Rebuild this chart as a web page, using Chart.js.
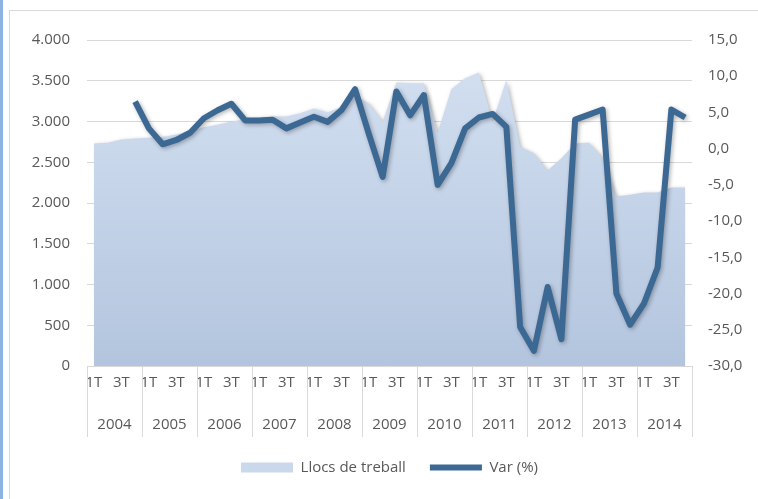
<!DOCTYPE html>
<html>
<head>
<meta charset="utf-8">
<script src="https://cdn.jsdelivr.net/npm/chart.js@4.4.1/dist/chart.umd.min.js"></script>
<style>
  html, body { margin: 0; padding: 0; background: #fff; overflow: hidden; }
  #wrap { position: relative; width: 758px; height: 499px; }
  #strip { position: absolute; left: 0; top: 0; width: 3px; height: 499px; background: #8db3e2; }
  #frame { position: absolute; left: 9px; top: 10px; width: 800px; height: 600px;
           border-top: 1px solid #d9d9d9; border-left: 1px solid #d9d9d9; }
  canvas { position: absolute; left: 0; top: 0; }
</style>
</head>
<body>
<div id="wrap">
  <div id="strip"></div>
  <div id="frame"></div>
  <canvas id="chart" width="758" height="499"></canvas>
</div>
<script>
// data
const years = ['2004', '2005', '2006', '2007', '2008', '2009', '2010', '2011', '2012', '2013', '2014'];
const quarters = ['1T', '2T', '3T', '4T'];
const shownQuarters = ['1T', '3T'];

const llocs = [
  2730, 2740, 2780, 2790,   // 2004
  2800, 2810, 2840, 2880,   // 2005
  2930, 2960, 3000, 3020,   // 2006
  3040, 3060, 3060, 3100,   // 2007
  3160, 3110, 3180, 3300,   // 2008
  3220, 3000, 3480, 3470,   // 2009
  3470, 2860, 3400, 3530,   // 2010
  3600, 3000, 3510, 2690,   // 2011
  2610, 2400, 2550, 2730,   // 2012
  2740, 2560, 2080, 2100,   // 2013
  2130, 2130, 2190, 2190    // 2014
];

const varPct = [
  null, null, null, 6.5,
  2.8, 0.6, 1.2, 2.2,
  4.2, 5.3, 6.2, 3.9,
  3.9, 4.0, 2.8, 3.6,
  4.4, 3.7, 5.3, 8.2,
  2.0, -3.9, 7.9, 4.6,
  7.4, -5.0, -2.0, 2.8,
  4.3, 4.8, 3.0, -24.6,
  -27.9, -19.1, -26.3, 4.0,
  4.7, 5.4, -20.0, -24.3,
  -21.4, -16.4, 5.4, 4.3
];

const labels = years.flatMap(y => quarters.map(q => q + ' ' + y));

const gridColor = '#d9d9d9';
const textColor = '#595959';
const areaLegendColor = '#cad8ec';

Chart.defaults.font.family = "'Open Sans', sans-serif";
Chart.defaults.font.size = 15;
Chart.defaults.color = textColor;

function fmtThousands(v) {
  const s = String(Math.round(v));
  return s.replace(/\B(?=(\d{3})+(?!\d))/g, '.');
}

// year row + separators under the quarter ticks
const yearAxis = {
  id: 'yearAxis',
  afterDraw(chart) {
    const xs = chart.scales.x;
    const ctx = chart.ctx;
    const step = xs.getPixelForValue(1) - xs.getPixelForValue(0);
    const top = xs.top;
    ctx.save();
    ctx.strokeStyle = gridColor;
    ctx.lineWidth = 1;
    for (let k = 0; k <= years.length; k++) {
      const x = Math.round(xs.getPixelForValue(k * 4) - step / 2) + 0.5;
      ctx.beginPath();
      ctx.moveTo(x, top);
      ctx.lineTo(x, top + 71);
      ctx.stroke();
    }
    ctx.fillStyle = textColor;
    ctx.font = "15px 'Open Sans', sans-serif";
    ctx.textAlign = 'center';
    ctx.textBaseline = 'middle';
    years.forEach((y, k) => {
      const x = xs.getPixelForValue(k * 4) - step / 2 + step * 2;
      ctx.fillText(y, x, top + 59);
    });
    ctx.restore();
  }
};

// soft drop shadow on the series
const shadow = {
  id: 'shadow',
  beforeDatasetsDraw(chart) {
    const ctx = chart.ctx;
    ctx.save();
    ctx.shadowColor = 'rgba(0,0,0,0.3)';
    ctx.shadowBlur = 4;
    ctx.shadowOffsetX = 1.5;
    ctx.shadowOffsetY = 1.5;
  },
  afterDatasetsDraw(chart) {
    chart.ctx.restore();
  }
};

new Chart(document.getElementById('chart'), {
  type: 'line',
  data: {
    labels: labels,
    datasets: [
      {
        label: 'Llocs de treball',
        data: llocs,
        yAxisID: 'y',
        order: 2,
        fill: 'origin',
        borderWidth: 0,
        pointRadius: 0,
        tension: 0,
        backgroundColor: function(context) {
          const area = context.chart.chartArea;
          if (!area) return areaLegendColor;
          const g = context.chart.ctx.createLinearGradient(0, area.top, 0, area.bottom);
          g.addColorStop(0, '#d5e1f2');
          g.addColorStop(1, '#b3c5de');
          return g;
        },
        borderColor: areaLegendColor,
        pointStyle: 'rect'
      },
      {
        label: 'Var (%)',
        data: varPct,
        yAxisID: 'y1',
        order: 1,
        fill: false,
        borderColor: '#3c6894',
        backgroundColor: '#3c6894',
        borderWidth: 6,
        borderJoinStyle: 'round',
        pointRadius: 0,
        tension: 0,
        pointStyle: 'line'
      }
    ]
  },
  options: {
    responsive: false,
    animation: false,
    layout: { padding: { top: 40, left: 0, right: 0, bottom: 14 } },
    plugins: {
      tooltip: { enabled: false },
      legend: {
        position: 'bottom',
        fullSize: false,
        labels: {
          usePointStyle: true,
          pointStyleWidth: 52,
          boxHeight: 10,
          padding: 24,
          color: textColor,
          font: { size: 15 },
          sort: (a, b) => a.datasetIndex - b.datasetIndex,
          generateLabels: function(chart) {
            const items = Chart.defaults.plugins.legend.labels.generateLabels(chart);
            items.forEach(it => {
              if (it.datasetIndex === 0) {
                it.fillStyle = areaLegendColor;
                it.strokeStyle = areaLegendColor;
                it.lineWidth = 0;
              }
            });
            return items;
          }
        }
      }
    },
    scales: {
      x: {
        type: 'category',
        offset: true,
        grid: { display: false, drawTicks: false },
        border: { display: false },
        ticks: {
          autoSkip: false,
          maxRotation: 0,
          padding: 8,
          color: textColor,
          callback: function(value, index) {
            const q = quarters[index % 4];
            return shownQuarters.includes(q) ? q : '';
          }
        },
        afterFit: s => { s.height = 70; }
      },
      y: {
        position: 'left',
        min: 0,
        max: 4000,
        grid: { color: gridColor, drawTicks: false },
        border: { display: false },
        ticks: {
          stepSize: 500,
          padding: 17,
          color: textColor,
          callback: v => fmtThousands(v)
        },
        afterFit: s => { s.width = 87; }
      },
      y1: {
        position: 'right',
        min: -30,
        max: 15,
        grid: { drawOnChartArea: false, drawTicks: false },
        border: { display: false },
        ticks: {
          stepSize: 5,
          padding: 16,
          color: textColor,
          callback: v => v.toFixed(1).replace('.', ',')
        },
        afterFit: s => { s.width = 66; }
      }
    }
  },
  plugins: [yearAxis, shadow]
});
</script>
</body>
</html>
